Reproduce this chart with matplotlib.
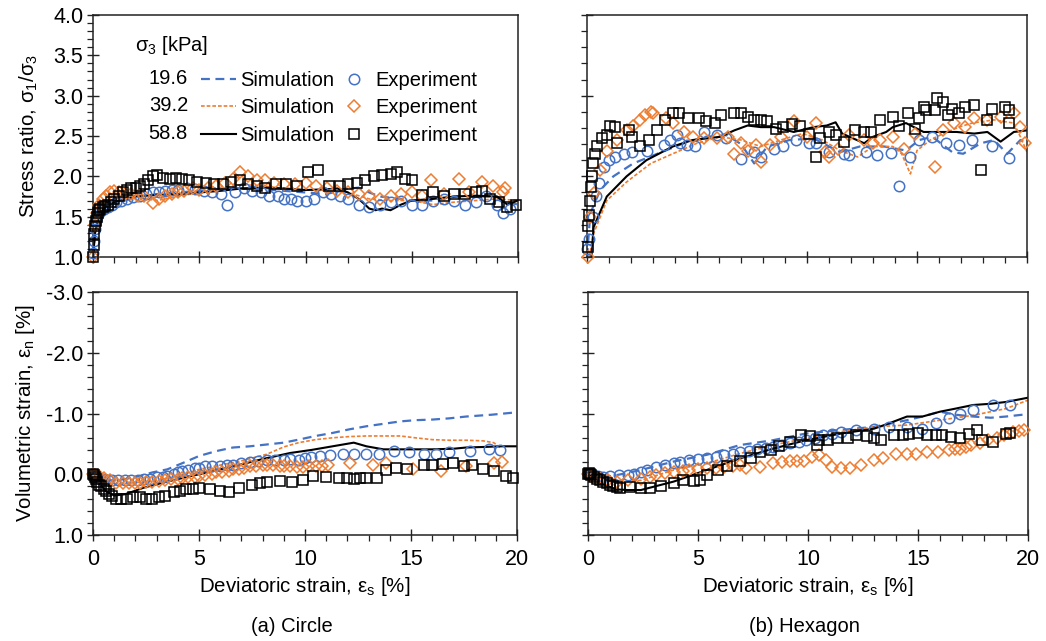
import matplotlib
matplotlib.use("Agg")
import matplotlib.pyplot as plt
from matplotlib.ticker import MultipleLocator, FormatStrFormatter
from matplotlib.lines import Line2D

plt.rcParams['font.family'] = ['Liberation Sans', 'DejaVu Sans']
plt.rcParams['axes.unicode_minus'] = False

BLUE = '#4472C4'
ORANGE = '#ED7D31'
BLACK = '#000000'

pressures = ['19.6', '39.2', '58.8']

# ---------------- (a) Circle : stress ratio ----------------
c_sr_exp196_x = [0, 0.05, 0.1, 0.15, 0.2, 0.3, 0.4, 0.5, 0.7, 0.9, 1.1, 1.3, 1.6, 1.9, 2.2, 2.5, 2.8, 3.1, 3.4, 3.7,
                 4.0, 4.4, 4.8, 5.2, 5.6, 6.0, 6.3, 6.7, 7.1, 7.5, 7.9, 8.3, 8.7, 9.0, 9.3, 9.6, 10.0, 10.4, 10.8,
                 11.2, 11.6, 12.0, 12.5, 13.0, 13.5, 14.0, 14.5, 15.0, 15.5, 16.0, 16.5, 17.0, 17.5, 18.0, 18.5,
                 19.0, 19.3, 19.6]
c_sr_exp196_y = [1.05, 1.2, 1.35, 1.45, 1.5, 1.55, 1.58, 1.6, 1.62, 1.65, 1.68, 1.7, 1.72, 1.74, 1.76, 1.78, 1.8,
                 1.8, 1.82, 1.83, 1.83, 1.85, 1.84, 1.82, 1.8, 1.78, 1.65, 1.8, 1.85, 1.82, 1.8, 1.75, 1.75, 1.72,
                 1.72, 1.7, 1.7, 1.72, 1.8, 1.78, 1.75, 1.72, 1.65, 1.62, 1.65, 1.68, 1.7, 1.65, 1.65, 1.7, 1.72,
                 1.7, 1.65, 1.68, 1.75, 1.65, 1.55, 1.6]
c_sr_exp392_x = [0, 0.1, 0.2, 0.3, 0.45, 0.6, 0.8, 1.0, 1.2, 1.5, 1.8, 2.1, 2.4, 2.8, 3.1, 3.4, 3.7, 4.0, 4.3, 4.7,
                 5.0, 5.4, 5.8, 6.2, 6.6, 6.9, 7.3, 7.7, 8.1, 8.5, 9.0, 9.5, 10.0, 10.5, 11.0, 11.5, 12.0, 12.5,
                 13.0, 13.5, 14.0, 14.5, 15.0, 15.5, 15.9, 16.5, 17.2, 17.7, 18.3, 18.8, 19.3, 19.4]
c_sr_exp392_y = [1.0, 1.4, 1.55, 1.65, 1.72, 1.75, 1.8, 1.82, 1.8, 1.78, 1.78, 1.76, 1.75, 1.67, 1.72, 1.75, 1.78,
                 1.8, 1.82, 1.85, 1.83, 1.86, 1.88, 1.92, 1.97, 2.05, 2.0, 1.96, 1.95, 1.92, 1.9, 1.9, 1.92, 1.88,
                 1.85, 1.82, 1.8, 1.78, 1.75, 1.72, 1.75, 1.78, 1.8, 1.75, 1.95, 1.78, 1.97, 1.8, 1.93, 1.88, 1.8,
                 1.86]
c_sr_exp588_x = [0, 0.03, 0.06, 0.1, 0.14, 0.18, 0.22, 0.28, 0.35, 0.45, 0.55, 0.7, 0.85, 1.0, 1.2, 1.4, 1.6, 1.8,
                 2.0, 2.2, 2.4, 2.6, 2.8, 3.0, 3.3, 3.6, 3.9, 4.2, 4.5, 4.9, 5.3, 5.7, 6.1, 6.5, 6.9, 7.3, 7.7,
                 8.1, 8.6, 9.1, 9.6, 10.1, 10.6, 11.1, 11.6, 12.0, 12.4, 12.8, 13.2, 13.6, 14.0, 14.3, 14.7, 15.0,
                 15.5, 16.0, 16.5, 17.0, 17.5, 18.0, 18.3, 18.7, 19.1, 19.5, 19.9]
c_sr_exp588_y = [1.0, 1.15, 1.28, 1.38, 1.45, 1.5, 1.55, 1.58, 1.6, 1.62, 1.63, 1.65, 1.68, 1.72, 1.75, 1.8, 1.83,
                 1.85, 1.85, 1.88, 1.9, 1.95, 2.0, 2.02, 1.98, 1.97, 1.98, 1.97, 1.95, 1.93, 1.92, 1.9, 1.9, 1.93,
                 1.95, 1.9, 1.88, 1.85, 1.9, 1.9, 1.88, 2.05, 2.08, 1.88, 1.88, 1.9, 1.92, 1.95, 2.0, 2.02, 2.03,
                 2.05, 1.97, 1.95, 1.77, 1.8, 1.75, 1.78, 1.78, 1.8, 1.82, 1.72, 1.68, 1.62, 1.65]

c_sr_sim196_x = [0, 0.1, 0.3, 0.5, 1.0, 1.5, 2.0, 3.0, 4.0, 5.0, 6.0, 7.0, 8.0, 9.0, 10.0, 11.0, 11.8, 12.5, 13.0,
                 13.5, 14.5, 15.0, 16.0, 17.0, 18.0, 19.0, 19.5, 20.0]
c_sr_sim196_y = [1.0, 1.3, 1.52, 1.6, 1.66, 1.7, 1.74, 1.78, 1.8, 1.82, 1.84, 1.85, 1.84, 1.82, 1.8, 1.78, 1.84,
                 1.86, 1.8, 1.75, 1.72, 1.7, 1.7, 1.75, 1.75, 1.75, 1.68, 1.65]
c_sr_sim392_x = [0, 0.1, 0.3, 0.5, 1.0, 1.5, 2.0, 2.5, 3.0, 4.0, 5.0, 6.0, 7.0, 8.0, 9.0, 10.0, 11.0, 12.0, 13.0,
                 14.0, 15.0, 16.0, 17.0, 18.0, 19.0, 20.0]
c_sr_sim392_y = [1.0, 1.35, 1.58, 1.66, 1.72, 1.75, 1.76, 1.72, 1.7, 1.75, 1.8, 1.85, 1.9, 1.88, 1.85, 1.83, 1.82,
                 1.8, 1.72, 1.7, 1.7, 1.65, 1.68, 1.7, 1.72, 1.7]
c_sr_sim588_x = [0, 0.1, 0.3, 0.5, 1.0, 1.5, 2.0, 3.0, 4.0, 5.0, 6.0, 7.0, 8.0, 9.0, 10.0, 11.0, 11.5, 12.0, 12.5,
                 12.8, 13.0, 13.3, 13.6, 14.0, 14.5, 15.0, 16.0, 17.0, 18.0, 19.0, 19.5, 20.0]
c_sr_sim588_y = [1.0, 1.3, 1.52, 1.6, 1.68, 1.72, 1.75, 1.77, 1.78, 1.8, 1.82, 1.85, 1.86, 1.85, 1.83, 1.84, 1.85,
                 1.8, 1.72, 1.65, 1.6, 1.58, 1.6, 1.58, 1.65, 1.7, 1.72, 1.75, 1.76, 1.75, 1.65, 1.7]

# ---------------- (b) Hexagon : stress ratio ----------------
h_sr_exp196_x = [0.0, 0.08, 0.25, 0.4, 0.53, 0.76, 0.98, 1.29, 1.66, 2.04, 2.72, 3.48, 3.78, 4.08, 4.24, 4.54, 4.92,
                 5.3, 5.9, 6.3, 7.0, 7.6, 7.9, 8.5, 8.9, 9.5, 10.1, 10.4, 11.0, 11.7, 11.9, 12.7, 13.2, 13.8,
                 14.2, 14.7, 15.1, 15.7, 16.3, 16.9, 17.5, 18.4, 19.2]
h_sr_exp196_y = [1.1, 1.22, 1.5, 1.75, 1.92, 2.12, 2.2, 2.24, 2.28, 2.3, 2.32, 2.39, 2.45, 2.51, 2.41, 2.39, 2.37,
                 2.55, 2.51, 2.47, 2.22, 2.3, 2.24, 2.34, 2.37, 2.45, 2.41, 2.41, 2.3, 2.28, 2.26, 2.3, 2.27, 2.29,
                 1.88, 2.24, 2.45, 2.49, 2.41, 2.39, 2.45, 2.37, 2.23]
h_sr_exp392_x = [0.05, 0.15, 0.3, 0.6, 0.9, 1.36, 1.8, 2.1, 2.4, 2.65, 2.9, 3.0, 3.6, 3.9, 4.4, 4.8, 5.3, 5.9, 6.4,
                 6.7, 7.0, 7.3, 7.7, 7.9, 8.3, 8.8, 9.4, 10.0, 10.4, 10.8, 11.0, 11.4, 11.9, 12.6, 13.0, 13.3,
                 13.9, 14.4, 14.9, 15.8, 16.2, 16.7, 17.2, 17.6, 18.2, 18.8, 19.4, 19.7, 19.9]
h_sr_exp392_y = [1.0, 1.5, 1.79, 2.08, 2.32, 2.45, 2.57, 2.63, 2.7, 2.76, 2.8, 2.78, 2.72, 2.66, 2.55, 2.49, 2.47,
                 2.47, 2.49, 2.28, 2.41, 2.32, 2.39, 2.18, 2.39, 2.49, 2.68, 2.49, 2.66, 2.3, 2.24, 2.34, 2.51,
                 2.45, 2.41, 2.45, 2.49, 2.34, 2.53, 2.12, 2.57, 2.66, 2.61, 2.72, 2.7, 2.74, 2.78, 2.61, 2.41]
h_sr_exp588_x = [0.05, 0.06, 0.08, 0.12, 0.18, 0.22, 0.27, 0.35, 0.45, 0.7, 0.9, 1.06, 1.29, 1.36, 1.9, 2.04, 2.4,
                 2.8, 3.2, 3.55, 3.9, 4.2, 4.6, 5.1, 5.4, 5.8, 6.1, 6.7, 7.0, 7.3, 7.6, 7.9, 8.2, 8.6, 8.9, 9.3,
                 9.7, 10.1, 10.4, 10.6, 11.0, 11.3, 11.7, 12.2, 12.6, 12.9, 13.3, 13.9, 14.2, 14.6, 14.9, 15.1,
                 15.3, 15.4, 15.8, 15.9, 16.2, 16.4, 16.6, 16.9, 17.2, 17.6, 17.9, 18.2, 18.4, 19.0, 19.2, 19.2]
h_sr_exp588_y = [1.12, 1.39, 1.52, 1.7, 1.87, 2.0, 2.16, 2.28, 2.37, 2.47, 2.51, 2.63, 2.61, 2.41, 2.57, 2.49, 2.37,
                 2.45, 2.57, 2.7, 2.78, 2.78, 2.72, 2.72, 2.68, 2.66, 2.76, 2.78, 2.78, 2.74, 2.7, 2.7, 2.68, 2.59,
                 2.61, 2.65, 2.63, 2.53, 2.24, 2.47, 2.55, 2.51, 2.43, 2.57, 2.55, 2.55, 2.7, 2.74, 2.63, 2.78,
                 2.59, 2.72, 2.86, 2.82, 2.82, 2.97, 2.92, 2.76, 2.84, 2.78, 2.86, 2.88, 2.08, 2.7, 2.84, 2.86,
                 2.82, 2.66]

h_sr_sim196_x = [0.0, 0.15, 0.6, 1.2, 2.1, 3.2, 4.4, 5.4, 6.35, 7.0, 7.6, 8.2, 9.2, 10.3, 11.5, 12.4, 13.5, 14.5,
                 15.1, 15.7, 16.6, 17.1, 17.9, 18.5, 19.1, 19.7, 20.0]
h_sr_sim196_y = [1.0, 1.54, 1.83, 2.0, 2.16, 2.28, 2.41, 2.49, 2.51, 2.4, 2.16, 2.37, 2.45, 2.47, 2.3, 2.37, 2.37,
                 2.32, 2.45, 2.49, 2.3, 2.28, 2.41, 2.45, 2.28, 2.45, 2.41]
h_sr_sim392_x = [0.1, 0.3, 0.9, 1.8, 2.9, 3.9, 5.0, 6.05, 7.0, 7.9, 8.8, 9.8, 10.7, 11.5, 12.3, 13.0, 13.9, 14.3,
                 14.7, 15.0, 15.6, 16.2, 16.9, 17.5, 18.5, 19.4, 19.7, 20.0]
h_sr_sim392_y = [1.0, 1.29, 1.7, 1.93, 2.16, 2.28, 2.41, 2.49, 2.45, 2.37, 2.45, 2.53, 2.45, 2.32, 2.24, 2.37, 2.37,
                 2.28, 2.03, 2.32, 2.45, 2.53, 2.61, 2.66, 2.7, 2.66, 2.49, 2.3]
h_sr_sim588_x = [0.2, 0.3, 0.9, 1.8, 2.7, 3.9, 4.8, 6.05, 6.7, 7.3, 7.9, 8.5, 9.4, 10.3, 10.9, 11.3, 11.6, 12.6,
                 13.0, 13.6, 13.9, 14.5, 15.3, 16.0, 16.8, 17.6, 18.2, 18.8, 19.4, 20.0]
h_sr_sim588_y = [1.0, 1.37, 1.75, 2.0, 2.2, 2.37, 2.45, 2.49, 2.57, 2.63, 2.61, 2.61, 2.55, 2.61, 2.63, 2.67, 2.53,
                 2.41, 2.49, 2.55, 2.61, 2.66, 2.55, 2.55, 2.55, 2.53, 2.55, 2.43, 2.55, 2.57]

# ---------------- (a) Circle : volumetric strain ----------------
c_vs_exp196_x = [0, 0.1, 0.2, 0.35, 0.5, 0.7, 0.9, 1.2, 1.5, 1.8, 2.1, 2.4, 2.7, 3.0, 3.3, 3.5, 3.8, 4.0, 4.2, 4.5,
                 4.8, 5.0, 5.3, 5.6, 6.0, 6.3, 6.6, 7.0, 7.4, 7.8, 8.2, 8.6, 9.0, 9.3, 9.7, 10.0, 10.3, 10.7, 11.2,
                 11.8, 12.3, 12.9, 13.5, 14.2, 14.9, 15.6, 16.2, 16.8, 17.8, 18.7, 19.2]
c_vs_exp196_y = [0.0, 0.03, 0.05, 0.07, 0.08, 0.09, 0.1, 0.1, 0.1, 0.1, 0.09, 0.08, 0.08, 0.05, 0.04, 0.03, 0.0,
                 -0.03, -0.05, -0.07, -0.1, -0.11, -0.13, -0.13, -0.14, -0.15, -0.16, -0.18, -0.2, -0.22, -0.24,
                 -0.24, -0.24, -0.25, -0.24, -0.27, -0.28, -0.3, -0.32, -0.34, -0.34, -0.34, -0.33, -0.38, -0.36,
                 -0.34, -0.34, -0.36, -0.38, -0.41, -0.4]
c_vs_exp392_x = [0, 0.1, 0.3, 0.5, 0.8, 1.1, 1.4, 1.7, 2.0, 2.2, 2.5, 2.8, 3.1, 3.4, 3.7, 4.0, 4.2, 4.5, 4.8, 5.0,
                 5.3, 5.6, 5.8, 6.1, 6.4, 6.6, 6.9, 7.1, 7.4, 7.7, 8.0, 8.2, 8.5, 8.8, 9.0, 9.3, 9.6, 9.9, 10.2,
                 10.5, 10.8, 11.1, 12.1, 13.2, 13.8, 15.1, 16.4, 17.6, 18.9, 19.3]
c_vs_exp392_y = [0.0, 0.02, 0.03, 0.06, 0.1, 0.14, 0.15, 0.15, 0.14, 0.14, 0.13, 0.12, 0.11, 0.1, 0.08, 0.07, 0.06,
                 0.05, 0.04, 0.03, 0.02, 0.0, -0.03, -0.04, -0.06, -0.08, -0.09, -0.1, -0.13, -0.14, -0.15, -0.16,
                 -0.15, -0.14, -0.13, -0.13, -0.12, -0.12, -0.13, -0.14, -0.13, -0.16, -0.19, -0.16, -0.19,
                 -0.08, -0.05, -0.13, -0.19, -0.2]
c_vs_exp588_x = [0, 0.05, 0.1, 0.15, 0.2, 0.3, 0.4, 0.5, 0.6, 0.75, 0.9, 1.1, 1.3, 1.6, 1.9, 2.2, 2.5, 2.8, 3.1,
                 3.4, 3.8, 4.1, 4.4, 4.7, 5.0, 5.5, 6.0, 6.4, 6.9, 7.5, 7.9, 8.2, 8.8, 9.4, 9.9, 10.4, 11.0, 11.6,
                 12.0, 12.3, 12.6, 12.9, 13.4, 13.8, 14.3, 14.8, 15.6, 16.0, 16.5, 17.0, 17.5, 17.9, 18.4, 18.9,
                 19.5, 19.8]
c_vs_exp588_y = [0.0, 0.02, 0.05, 0.08, 0.12, 0.17, 0.2, 0.24, 0.27, 0.32, 0.36, 0.4, 0.41, 0.4, 0.37, 0.38, 0.4,
                 0.41, 0.38, 0.35, 0.3, 0.27, 0.25, 0.25, 0.22, 0.25, 0.28, 0.29, 0.22, 0.17, 0.15, 0.13, 0.11,
                 0.13, 0.1, 0.03, 0.05, 0.06, 0.06, 0.07, 0.06, 0.06, 0.06, -0.07, -0.1, -0.08, -0.16, -0.16,
                 -0.17, -0.18, -0.13, -0.16, -0.08, -0.05, 0.03, 0.06]

c_vs_sim196_x = [0, 0.3, 0.7, 1.0, 1.5, 2.2, 2.8, 3.5, 4.2, 5.0, 5.8, 6.6, 7.4, 8.2, 9.0, 9.7, 10.5, 11.3, 12.1,
                 12.9, 13.7, 14.5, 15.2, 16.0, 16.8, 17.6, 18.8, 20.0]
c_vs_sim196_y = [0.0, 0.06, 0.1, 0.1, 0.08, 0.03, -0.03, -0.08, -0.18, -0.3, -0.38, -0.44, -0.46, -0.49, -0.52,
                 -0.57, -0.63, -0.68, -0.74, -0.79, -0.83, -0.87, -0.89, -0.9, -0.92, -0.95, -0.98, -1.02]
c_vs_sim392_x = [0, 0.3, 0.7, 1.0, 1.5, 2.0, 3.0, 4.0, 5.0, 6.0, 7.0, 8.2, 9.0, 9.7, 10.5, 11.3, 12.1, 12.9, 13.7,
                 14.5, 15.2, 16.0, 16.8, 17.6, 18.4, 18.9, 19.2]
c_vs_sim392_y = [0.0, 0.08, 0.13, 0.15, 0.15, 0.14, 0.1, 0.03, -0.08, -0.15, -0.22, -0.33, -0.45, -0.52, -0.57,
                 -0.6, -0.62, -0.63, -0.63, -0.63, -0.6, -0.57, -0.56, -0.56, -0.55, -0.52, -0.44]
c_vs_sim588_x = [0, 0.3, 0.6, 1.0, 1.5, 2.0, 2.4, 3.5, 5.0, 6.5, 8.0, 9.3, 10.3, 11.3, 11.8, 12.3, 12.9, 13.7,
                 14.5, 15.5, 16.0, 17.0, 17.6, 18.5, 19.2, 20.0]
c_vs_sim588_y = [0.0, 0.15, 0.28, 0.35, 0.33, 0.27, 0.22, 0.12, 0.0, -0.12, -0.25, -0.35, -0.4, -0.46, -0.49,
                 -0.52, -0.46, -0.41, -0.41, -0.41, -0.41, -0.42, -0.44, -0.45, -0.46, -0.46]

# ---------------- (b) Hexagon : volumetric strain ----------------
h_vs_exp196_x = [0, 0.1, 0.25, 0.45, 0.7, 1.0, 1.4, 1.8, 2.1, 2.4, 2.7, 3.1, 3.5, 3.9, 4.2, 4.6, 5.0, 5.4, 5.8, 6.2,
                 6.6, 6.9, 7.3, 7.7, 8.1, 8.4, 8.8, 9.2, 9.6, 9.9, 10.3, 10.7, 11.1, 11.5, 12.2, 13.0, 13.7, 14.5,
                 15.2, 15.8, 16.4, 16.9, 17.5, 18.4, 19.2]
h_vs_exp196_y = [0.0, 0.01, 0.02, 0.03, 0.04, 0.03, 0.02, 0.01, 0.0, -0.04, -0.07, -0.12, -0.15, -0.18, -0.2,
                 -0.23, -0.25, -0.26, -0.29, -0.32, -0.34, -0.37, -0.39, -0.42, -0.44, -0.45, -0.48, -0.51, -0.53,
                 -0.56, -0.6, -0.64, -0.67, -0.7, -0.73, -0.75, -0.78, -0.78, -0.75, -0.84, -0.92, -1.0, -1.05,
                 -1.14, -1.14]
h_vs_exp392_x = [0, 0.2, 0.5, 0.9, 1.3, 1.8, 2.4, 2.8, 3.1, 3.5, 3.9, 4.3, 4.6, 5.0, 5.4, 5.8, 6.2, 6.6, 6.9, 7.2,
                 7.8, 8.4, 8.8, 9.2, 9.5, 9.8, 10.2, 10.5, 10.8, 11.1, 11.5, 11.9, 12.4, 13.0, 13.4, 14.0, 14.5,
                 14.9, 15.4, 15.9, 16.4, 16.7, 16.9, 17.2, 17.4, 17.8, 18.2, 18.6, 18.9, 19.3, 19.6, 19.8]
h_vs_exp392_y = [0.0, 0.03, 0.06, 0.1, 0.12, 0.1, 0.07, 0.04, 0.01, -0.02, -0.04, -0.05, -0.07, -0.08, -0.1,
                 -0.11, -0.12, -0.14, -0.15, -0.1, -0.12, -0.18, -0.2, -0.21, -0.21, -0.21, -0.29, -0.32, -0.23,
                 -0.12, -0.1, -0.1, -0.15, -0.23, -0.26, -0.34, -0.34, -0.34, -0.37, -0.37, -0.4, -0.41, -0.42,
                 -0.45, -0.48, -0.51, -0.56, -0.6, -0.64, -0.7, -0.72, -0.73]
h_vs_exp588_x = [0, 0.05, 0.1, 0.15, 0.25, 0.4, 0.55, 0.7, 0.85, 1.0, 1.15, 1.3, 1.45, 1.9, 2.4, 2.8, 3.3, 3.9, 4.3,
                 4.8, 5.1, 5.4, 5.9, 6.3, 6.9, 7.4, 7.8, 8.3, 8.7, 9.2, 9.7, 10.1, 10.4, 10.5, 10.9, 11.3, 11.8,
                 12.2, 12.7, 13.0, 13.3, 13.9, 14.3, 14.6, 15.0, 15.4, 15.8, 16.1, 16.5, 16.9, 17.3, 17.7, 17.9,
                 18.4, 19.0, 19.2]
h_vs_exp588_y = [0.0, -0.02, 0.0, 0.02, 0.04, 0.07, 0.1, 0.12, 0.15, 0.18, 0.2, 0.21, 0.23, 0.21, 0.23, 0.22, 0.19,
                 0.15, 0.1, 0.11, 0.1, 0.01, -0.07, -0.13, -0.21, -0.26, -0.37, -0.4, -0.46, -0.53, -0.64, -0.63,
                 -0.48, -0.56, -0.56, -0.59, -0.59, -0.64, -0.63, -0.59, -0.57, -0.64, -0.64, -0.66, -0.68, -0.64,
                 -0.64, -0.64, -0.62, -0.59, -0.67, -0.73, -0.57, -0.53, -0.67, -0.68]

h_vs_sim196_x = [0, 0.4, 0.9, 1.5, 2.4, 3.9, 5.4, 6.9, 8.4, 9.9, 11.5, 13.0, 14.5, 15.2, 16.0, 16.7, 17.5, 18.3,
                 19.0, 20.0]
h_vs_sim196_y = [0.0, 0.03, 0.04, 0.0, -0.07, -0.21, -0.32, -0.48, -0.56, -0.67, -0.73, -0.78, -0.89, -0.95,
                 -1.03, -0.98, -0.95, -0.93, -0.95, -0.99]
h_vs_sim392_x = [0, 0.4, 0.9, 1.5, 2.4, 3.9, 5.4, 6.9, 8.4, 9.9, 11.5, 13.0, 14.5, 16.0, 17.5, 19.0, 20.0]
h_vs_sim392_y = [0.0, 0.06, 0.1, 0.12, 0.1, -0.07, -0.18, -0.34, -0.48, -0.59, -0.7, -0.78, -0.81, -0.89, -0.97,
                 -1.08, -1.22]
h_vs_sim588_x = [0, 0.4, 0.8, 1.3, 1.8, 2.4, 3.9, 5.4, 6.9, 8.4, 9.9, 11.5, 13.0, 13.7, 14.5, 15.2, 16.0, 16.7,
                 17.5, 18.3, 19.0, 20.0]
h_vs_sim588_y = [0.0, 0.1, 0.18, 0.25, 0.26, 0.26, 0.12, -0.07, -0.26, -0.42, -0.56, -0.67, -0.75, -0.84, -0.95,
                 -0.95, -1.03, -1.08, -1.14, -1.16, -1.19, -1.26]

# ---------------- figure ----------------
fig = plt.figure(figsize=(10.46, 6.41), dpi=100)
W, H = 1046, 641


def make_ax(l, r, t, b):
    return fig.add_axes([l / W, 1 - b / H, (r - l) / W, (b - t) / H])


ax_tl = make_ax(93, 518, 15, 257)
ax_tr = make_ax(587, 1027, 15, 257)
ax_bl = make_ax(93, 517, 292, 535)
ax_br = make_ax(588, 1028, 292, 535)

FS = 14.5
TFS = 15.5
sim_styles = [dict(color=BLUE, lw=1.6, dashes=(4, 2.5)),
              dict(color=ORANGE, lw=1.2, dashes=(2.2, 1.2)),
              dict(color=BLACK, lw=1.5, linestyle='-')]
exp_styles = [dict(marker='o', ms=7.5, mfc='none', mec=BLUE, mew=1.1, linestyle='none'),
              dict(marker='D', ms=6.5, mfc='none', mec=ORANGE, mew=1.1, linestyle='none'),
              dict(marker='s', ms=7.0, mfc='none', mec=BLACK, mew=1.1, linestyle='none')]


def draw(ax, sims, exps):
    for (sx, sy), st in zip(sims, sim_styles):
        ax.plot(sx, sy, **st, zorder=2)
    for (ex, ey), st in zip(exps, exp_styles):
        ax.plot(ex, ey, **st, clip_on=False, zorder=3)


draw(ax_tl,
     [(c_sr_sim196_x, c_sr_sim196_y), (c_sr_sim392_x, c_sr_sim392_y), (c_sr_sim588_x, c_sr_sim588_y)],
     [(c_sr_exp196_x, c_sr_exp196_y), (c_sr_exp392_x, c_sr_exp392_y), (c_sr_exp588_x, c_sr_exp588_y)])
draw(ax_tr,
     [(h_sr_sim196_x, h_sr_sim196_y), (h_sr_sim392_x, h_sr_sim392_y), (h_sr_sim588_x, h_sr_sim588_y)],
     [(h_sr_exp196_x, h_sr_exp196_y), (h_sr_exp392_x, h_sr_exp392_y), (h_sr_exp588_x, h_sr_exp588_y)])
draw(ax_bl,
     [(c_vs_sim196_x, c_vs_sim196_y), (c_vs_sim392_x, c_vs_sim392_y), (c_vs_sim588_x, c_vs_sim588_y)],
     [(c_vs_exp196_x, c_vs_exp196_y), (c_vs_exp392_x, c_vs_exp392_y), (c_vs_exp588_x, c_vs_exp588_y)])
draw(ax_br,
     [(h_vs_sim196_x, h_vs_sim196_y), (h_vs_sim392_x, h_vs_sim392_y), (h_vs_sim588_x, h_vs_sim588_y)],
     [(h_vs_exp196_x, h_vs_exp196_y), (h_vs_exp392_x, h_vs_exp392_y), (h_vs_exp588_x, h_vs_exp588_y)])

for ax in (ax_tl, ax_tr, ax_bl, ax_br):
    ax.set_xlim(0, 20)
    ax.xaxis.set_major_locator(MultipleLocator(5))
    ax.xaxis.set_minor_locator(MultipleLocator(1))
    for sp in ax.spines.values():
        sp.set_color('#222222')
        sp.set_linewidth(1.1)
    ax.tick_params(which='major', direction='inout', length=8, width=1.0, labelsize=TFS, pad=3, color='#222222')
    ax.tick_params(which='minor', direction='out', length=4, width=0.9, color='#222222')

for ax in (ax_tl, ax_tr):
    ax.set_ylim(1.0, 4.0)
    ax.tick_params(axis='x', labelbottom=False)
ax_tl.yaxis.set_major_locator(MultipleLocator(0.5))
ax_tl.yaxis.set_minor_locator(MultipleLocator(0.1))
ax_tl.yaxis.set_major_formatter(FormatStrFormatter('%.1f'))
ax_tr.yaxis.set_major_locator(MultipleLocator(1.0))
ax_tr.yaxis.set_minor_locator(MultipleLocator(0.2))
ax_tr.tick_params(axis='y', labelleft=False)

for ax in (ax_bl, ax_br):
    ax.set_ylim(1.0, -3.0)
    ax.yaxis.set_major_locator(MultipleLocator(1.0))
    ax.yaxis.set_minor_locator(MultipleLocator(0.2))
    ax.yaxis.set_major_formatter(FormatStrFormatter('%.1f'))
    ax.tick_params(axis='x', pad=6)
    ax.set_xlabel(r'Deviatoric strain, $\mathregular{ε_s}$ [%]', fontsize=14.8)
    ax.xaxis.set_label_coords(0.5, -0.165)
ax_br.tick_params(axis='y', labelleft=False)

ax_tl.set_ylabel(r'Stress ratio, $\mathregular{σ_1/σ_3}$', fontsize=14.8)
ax_tl.yaxis.set_label_coords(-0.125, 0.5)
ax_bl.set_ylabel(r'Volumetric strain, $\mathregular{ε_n}$ [%]', fontsize=14.8)
ax_bl.yaxis.set_label_coords(-0.131, 0.5)

# legend
handles = [Line2D([], [], **st) for st in sim_styles] + [Line2D([], [], **st) for st in exp_styles]
labels = ['Simulation'] * 3 + ['Experiment'] * 3
ax_tl.legend(handles, labels, ncol=2, loc='upper left', bbox_to_anchor=(0.254, 0.77), frameon=False,
             fontsize=FS, handlelength=1.75, handletextpad=0.2, columnspacing=0.1, labelspacing=0.42,
             borderpad=0, borderaxespad=0)
ax_tl.text(0.099, 0.876, r'$\mathregular{σ_3}$ [kPa]', transform=ax_tl.transAxes, fontsize=FS,
           ha='left', va='center')
for p, yy in zip(pressures, [0.736, 0.624, 0.512]):
    ax_tl.text(0.2235, yy, p, transform=ax_tl.transAxes, fontsize=FS, ha='right', va='center')

fig.text(292 / W, 1 - 627 / H, '(a) Circle', fontsize=FS, ha='center', va='center')
fig.text(804 / W, 1 - 627 / H, '(b) Hexagon', fontsize=FS, ha='center', va='center')

fig.savefig('out.png', dpi=100)
